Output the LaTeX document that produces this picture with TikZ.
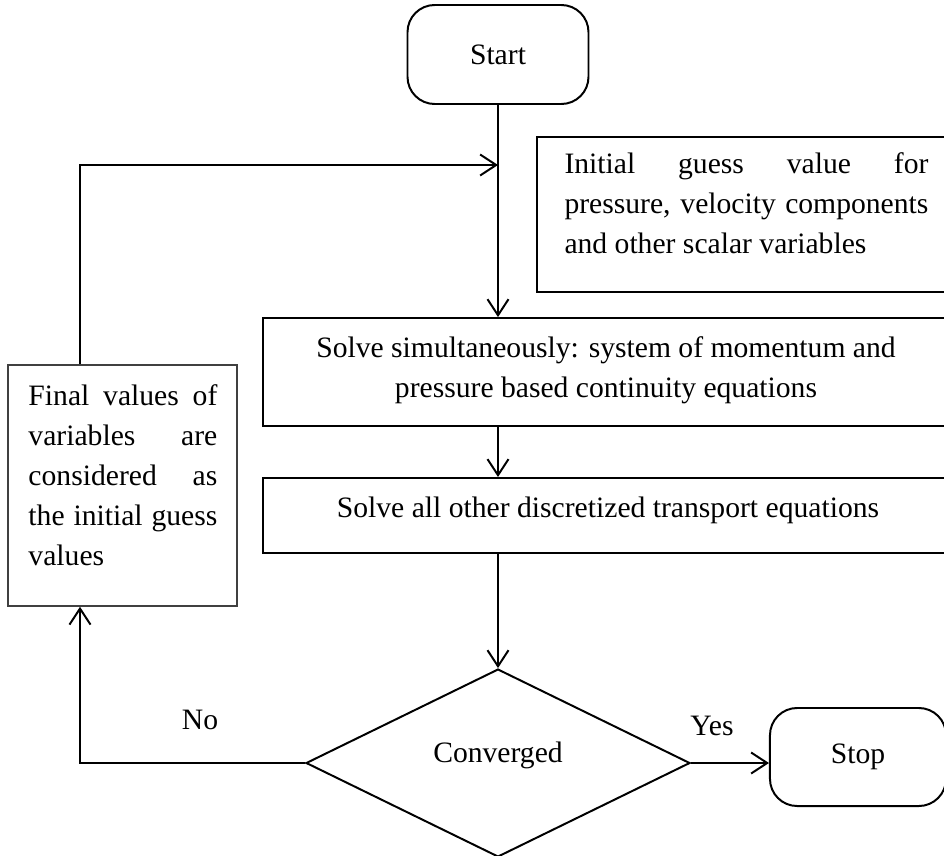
\documentclass[tikz,border=0pt]{standalone}
\usepackage{fontspec}
\setmainfont{Liberation Serif}
\usetikzlibrary{arrows.meta,shapes.geometric}

\begin{document}
\begin{tikzpicture}[x=0.405pt,y=-0.405pt,
		font=\fontsize{12}{16.2}\selectfont,
		box/.style={draw,line width=0.8pt,rectangle,inner sep=0pt},
		term/.style={draw,line width=0.8pt,rectangle,rounded corners=11pt,inner sep=0pt},
		txt/.style={inner sep=0pt},
		arr/.style={line width=0.8pt,-{Straight Barb[length=6.5pt,width=8.5pt]}}]
		\useasboundingbox (0,0) rectangle (944,855);
		\node[term,minimum width=73.3pt,minimum height=40.1pt] (start) at (498,54.5){Start};
		\node[box,minimum width=167.3pt,minimum height=62.8pt] (guess) at (743.5,214.5){};
		\node[txt,anchor=north west,text width=147.4pt,align=justify] (guesstxt) at (564,152){Initial guess value for\linebreak pressure, velocity components\linebreak and other scalar variables};
		\node[box,minimum width=278.2pt,minimum height=43.7pt] (solveA) at (606.5,372){};
		\node[txt,align=center] (solveAtxt) at (606,370){Solve simultaneously: system of momentum and\\pressure based continuity equations};
		\node[box,minimum width=278.2pt,minimum height=30.4pt] (solveB) at (606.5,515.5){};
		\node[txt] (solveBtxt) at (608,510){Solve all other discretized transport equations};
		\node[draw,line width=0.8pt,diamond,inner sep=0pt,minimum width=155.5pt,minimum height=76.1pt] (conv) at (498,763){};
		\node[txt] (convtxt) at (498,755){Converged};
		\node[term,minimum width=71.3pt,minimum height=39.7pt] (stop) at (858,757){Stop};
		\node[box,line width=0.6pt,draw=black!75,minimum width=92.7pt,minimum height=97.6pt] (final) at (122.5,485.5){};
		\node[txt,anchor=north west,text width=76.5pt,align=justify] (finaltxt) at (28,384){Final values of\linebreak variables are\linebreak considered as\linebreak the initial guess\linebreak values};
		\node[txt] (no) at (200,720){No};
		\node[txt] (yes) at (712,726){Yes};
		\coordinate (merge) at (498,165);
		\coordinate (noturn) at (80,763);
		% main flow
		\draw[arr] (start.south) -- (start.south |- solveA.north);
		\draw[arr] (solveA.south -| start.south) -- (solveB.north -| start.south);
		\draw[arr] (solveB.south -| start.south) -- (conv.north);
		\draw[arr] (conv.east) -- (conv.east -| stop.west);
		% back loop
		\draw[arr] (conv.west) -- (noturn) -- (noturn |- final.south);
		\draw[arr] (noturn |- final.north) |- (merge);
	\end{tikzpicture}
\end{document}
